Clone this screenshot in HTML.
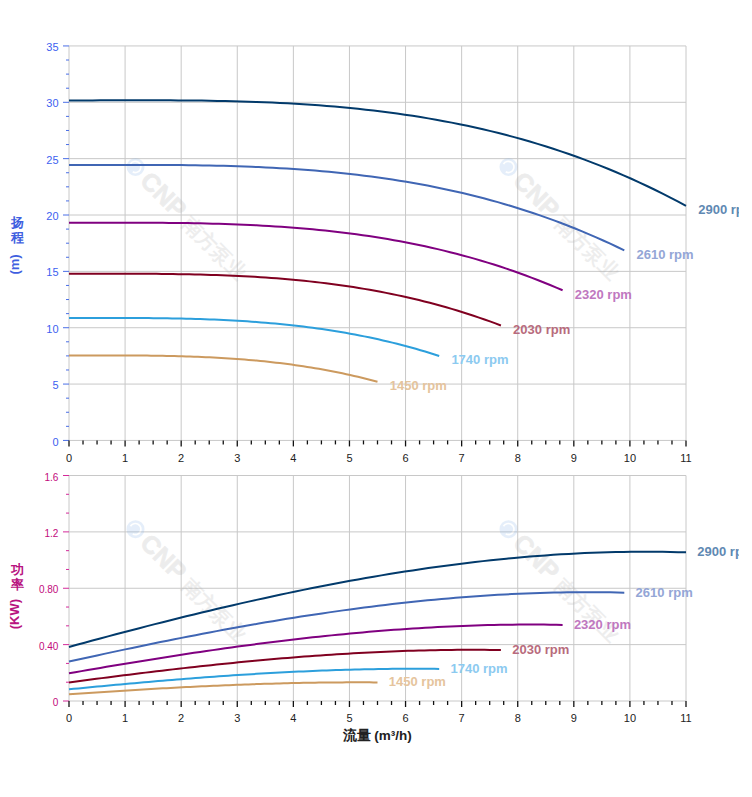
<!DOCTYPE html><html><head><meta charset="utf-8"><style>
html,body{margin:0;padding:0;background:#fff;width:752px;height:797px;overflow:hidden}
svg{position:absolute;left:0;top:0}
text{font-family:"Liberation Sans",sans-serif}
</style></head><body>
<svg width="752" height="797" viewBox="0 0 752 797">

<line x1="69.00" y1="45.94" x2="69.00" y2="440.43" stroke="#c8c8c8" stroke-width="1"/>
<line x1="125.09" y1="45.94" x2="125.09" y2="440.43" stroke="#c8c8c8" stroke-width="1"/>
<line x1="181.18" y1="45.94" x2="181.18" y2="440.43" stroke="#c8c8c8" stroke-width="1"/>
<line x1="237.27" y1="45.94" x2="237.27" y2="440.43" stroke="#c8c8c8" stroke-width="1"/>
<line x1="293.36" y1="45.94" x2="293.36" y2="440.43" stroke="#c8c8c8" stroke-width="1"/>
<line x1="349.45" y1="45.94" x2="349.45" y2="440.43" stroke="#c8c8c8" stroke-width="1"/>
<line x1="405.55" y1="45.94" x2="405.55" y2="440.43" stroke="#c8c8c8" stroke-width="1"/>
<line x1="461.64" y1="45.94" x2="461.64" y2="440.43" stroke="#c8c8c8" stroke-width="1"/>
<line x1="517.73" y1="45.94" x2="517.73" y2="440.43" stroke="#c8c8c8" stroke-width="1"/>
<line x1="573.82" y1="45.94" x2="573.82" y2="440.43" stroke="#c8c8c8" stroke-width="1"/>
<line x1="629.91" y1="45.94" x2="629.91" y2="440.43" stroke="#c8c8c8" stroke-width="1"/>
<line x1="686.00" y1="45.94" x2="686.00" y2="440.43" stroke="#c8c8c8" stroke-width="1"/>
<line x1="69.00" y1="440.43" x2="686.00" y2="440.43" stroke="#c8c8c8" stroke-width="1"/>
<line x1="69.00" y1="384.07" x2="686.00" y2="384.07" stroke="#c8c8c8" stroke-width="1"/>
<line x1="69.00" y1="327.72" x2="686.00" y2="327.72" stroke="#c8c8c8" stroke-width="1"/>
<line x1="69.00" y1="271.36" x2="686.00" y2="271.36" stroke="#c8c8c8" stroke-width="1"/>
<line x1="69.00" y1="215.01" x2="686.00" y2="215.01" stroke="#c8c8c8" stroke-width="1"/>
<line x1="69.00" y1="158.65" x2="686.00" y2="158.65" stroke="#c8c8c8" stroke-width="1"/>
<line x1="69.00" y1="102.30" x2="686.00" y2="102.30" stroke="#c8c8c8" stroke-width="1"/>
<line x1="69.00" y1="45.94" x2="686.00" y2="45.94" stroke="#c8c8c8" stroke-width="1"/>
<line x1="69.00" y1="475.50" x2="69.00" y2="701.00" stroke="#c8c8c8" stroke-width="1"/>
<line x1="125.09" y1="475.50" x2="125.09" y2="701.00" stroke="#c8c8c8" stroke-width="1"/>
<line x1="181.18" y1="475.50" x2="181.18" y2="701.00" stroke="#c8c8c8" stroke-width="1"/>
<line x1="237.27" y1="475.50" x2="237.27" y2="701.00" stroke="#c8c8c8" stroke-width="1"/>
<line x1="293.36" y1="475.50" x2="293.36" y2="701.00" stroke="#c8c8c8" stroke-width="1"/>
<line x1="349.45" y1="475.50" x2="349.45" y2="701.00" stroke="#c8c8c8" stroke-width="1"/>
<line x1="405.55" y1="475.50" x2="405.55" y2="701.00" stroke="#c8c8c8" stroke-width="1"/>
<line x1="461.64" y1="475.50" x2="461.64" y2="701.00" stroke="#c8c8c8" stroke-width="1"/>
<line x1="517.73" y1="475.50" x2="517.73" y2="701.00" stroke="#c8c8c8" stroke-width="1"/>
<line x1="573.82" y1="475.50" x2="573.82" y2="701.00" stroke="#c8c8c8" stroke-width="1"/>
<line x1="629.91" y1="475.50" x2="629.91" y2="701.00" stroke="#c8c8c8" stroke-width="1"/>
<line x1="686.00" y1="475.50" x2="686.00" y2="701.00" stroke="#c8c8c8" stroke-width="1"/>
<line x1="69.00" y1="701.00" x2="686.00" y2="701.00" stroke="#c8c8c8" stroke-width="1"/>
<line x1="69.00" y1="644.62" x2="686.00" y2="644.62" stroke="#c8c8c8" stroke-width="1"/>
<line x1="69.00" y1="588.25" x2="686.00" y2="588.25" stroke="#c8c8c8" stroke-width="1"/>
<line x1="69.00" y1="531.88" x2="686.00" y2="531.88" stroke="#c8c8c8" stroke-width="1"/>
<line x1="69.00" y1="475.50" x2="686.00" y2="475.50" stroke="#c8c8c8" stroke-width="1"/>
<line x1="63" y1="440.43" x2="69.00" y2="440.43" stroke="#4a6ee6" stroke-width="1"/>
<line x1="66" y1="426.34" x2="69.00" y2="426.34" stroke="#4a6ee6" stroke-width="1"/>
<line x1="66" y1="412.25" x2="69.00" y2="412.25" stroke="#4a6ee6" stroke-width="1"/>
<line x1="66" y1="398.16" x2="69.00" y2="398.16" stroke="#4a6ee6" stroke-width="1"/>
<line x1="63" y1="384.07" x2="69.00" y2="384.07" stroke="#4a6ee6" stroke-width="1"/>
<line x1="66" y1="369.99" x2="69.00" y2="369.99" stroke="#4a6ee6" stroke-width="1"/>
<line x1="66" y1="355.90" x2="69.00" y2="355.90" stroke="#4a6ee6" stroke-width="1"/>
<line x1="66" y1="341.81" x2="69.00" y2="341.81" stroke="#4a6ee6" stroke-width="1"/>
<line x1="63" y1="327.72" x2="69.00" y2="327.72" stroke="#4a6ee6" stroke-width="1"/>
<line x1="66" y1="313.63" x2="69.00" y2="313.63" stroke="#4a6ee6" stroke-width="1"/>
<line x1="66" y1="299.54" x2="69.00" y2="299.54" stroke="#4a6ee6" stroke-width="1"/>
<line x1="66" y1="285.45" x2="69.00" y2="285.45" stroke="#4a6ee6" stroke-width="1"/>
<line x1="63" y1="271.36" x2="69.00" y2="271.36" stroke="#4a6ee6" stroke-width="1"/>
<line x1="66" y1="257.27" x2="69.00" y2="257.27" stroke="#4a6ee6" stroke-width="1"/>
<line x1="66" y1="243.19" x2="69.00" y2="243.19" stroke="#4a6ee6" stroke-width="1"/>
<line x1="66" y1="229.10" x2="69.00" y2="229.10" stroke="#4a6ee6" stroke-width="1"/>
<line x1="63" y1="215.01" x2="69.00" y2="215.01" stroke="#4a6ee6" stroke-width="1"/>
<line x1="66" y1="200.92" x2="69.00" y2="200.92" stroke="#4a6ee6" stroke-width="1"/>
<line x1="66" y1="186.83" x2="69.00" y2="186.83" stroke="#4a6ee6" stroke-width="1"/>
<line x1="66" y1="172.74" x2="69.00" y2="172.74" stroke="#4a6ee6" stroke-width="1"/>
<line x1="63" y1="158.65" x2="69.00" y2="158.65" stroke="#4a6ee6" stroke-width="1"/>
<line x1="66" y1="144.56" x2="69.00" y2="144.56" stroke="#4a6ee6" stroke-width="1"/>
<line x1="66" y1="130.47" x2="69.00" y2="130.47" stroke="#4a6ee6" stroke-width="1"/>
<line x1="66" y1="116.38" x2="69.00" y2="116.38" stroke="#4a6ee6" stroke-width="1"/>
<line x1="63" y1="102.30" x2="69.00" y2="102.30" stroke="#4a6ee6" stroke-width="1"/>
<line x1="66" y1="88.21" x2="69.00" y2="88.21" stroke="#4a6ee6" stroke-width="1"/>
<line x1="66" y1="74.12" x2="69.00" y2="74.12" stroke="#4a6ee6" stroke-width="1"/>
<line x1="66" y1="60.03" x2="69.00" y2="60.03" stroke="#4a6ee6" stroke-width="1"/>
<line x1="63" y1="45.94" x2="69.00" y2="45.94" stroke="#4a6ee6" stroke-width="1"/>
<line x1="63" y1="701.00" x2="69.00" y2="701.00" stroke="#d42a9a" stroke-width="1"/>
<line x1="66" y1="682.21" x2="69.00" y2="682.21" stroke="#d42a9a" stroke-width="1"/>
<line x1="66" y1="663.42" x2="69.00" y2="663.42" stroke="#d42a9a" stroke-width="1"/>
<line x1="63" y1="644.62" x2="69.00" y2="644.62" stroke="#d42a9a" stroke-width="1"/>
<line x1="66" y1="625.83" x2="69.00" y2="625.83" stroke="#d42a9a" stroke-width="1"/>
<line x1="66" y1="607.04" x2="69.00" y2="607.04" stroke="#d42a9a" stroke-width="1"/>
<line x1="63" y1="588.25" x2="69.00" y2="588.25" stroke="#d42a9a" stroke-width="1"/>
<line x1="66" y1="569.46" x2="69.00" y2="569.46" stroke="#d42a9a" stroke-width="1"/>
<line x1="66" y1="550.67" x2="69.00" y2="550.67" stroke="#d42a9a" stroke-width="1"/>
<line x1="63" y1="531.88" x2="69.00" y2="531.88" stroke="#d42a9a" stroke-width="1"/>
<line x1="66" y1="513.08" x2="69.00" y2="513.08" stroke="#d42a9a" stroke-width="1"/>
<line x1="66" y1="494.29" x2="69.00" y2="494.29" stroke="#d42a9a" stroke-width="1"/>
<line x1="63" y1="475.50" x2="69.00" y2="475.50" stroke="#d42a9a" stroke-width="1"/>
<line x1="69.00" y1="440.43" x2="69.00" y2="446.43" stroke="#111" stroke-width="1.3"/>
<line x1="83.02" y1="440.43" x2="83.02" y2="444.43" stroke="#111" stroke-width="1.3"/>
<line x1="97.05" y1="440.43" x2="97.05" y2="444.43" stroke="#111" stroke-width="1.3"/>
<line x1="111.07" y1="440.43" x2="111.07" y2="444.43" stroke="#111" stroke-width="1.3"/>
<line x1="125.09" y1="440.43" x2="125.09" y2="446.43" stroke="#111" stroke-width="1.3"/>
<line x1="139.11" y1="440.43" x2="139.11" y2="444.43" stroke="#111" stroke-width="1.3"/>
<line x1="153.14" y1="440.43" x2="153.14" y2="444.43" stroke="#111" stroke-width="1.3"/>
<line x1="167.16" y1="440.43" x2="167.16" y2="444.43" stroke="#111" stroke-width="1.3"/>
<line x1="181.18" y1="440.43" x2="181.18" y2="446.43" stroke="#111" stroke-width="1.3"/>
<line x1="195.20" y1="440.43" x2="195.20" y2="444.43" stroke="#111" stroke-width="1.3"/>
<line x1="209.23" y1="440.43" x2="209.23" y2="444.43" stroke="#111" stroke-width="1.3"/>
<line x1="223.25" y1="440.43" x2="223.25" y2="444.43" stroke="#111" stroke-width="1.3"/>
<line x1="237.27" y1="440.43" x2="237.27" y2="446.43" stroke="#111" stroke-width="1.3"/>
<line x1="251.30" y1="440.43" x2="251.30" y2="444.43" stroke="#111" stroke-width="1.3"/>
<line x1="265.32" y1="440.43" x2="265.32" y2="444.43" stroke="#111" stroke-width="1.3"/>
<line x1="279.34" y1="440.43" x2="279.34" y2="444.43" stroke="#111" stroke-width="1.3"/>
<line x1="293.36" y1="440.43" x2="293.36" y2="446.43" stroke="#111" stroke-width="1.3"/>
<line x1="307.39" y1="440.43" x2="307.39" y2="444.43" stroke="#111" stroke-width="1.3"/>
<line x1="321.41" y1="440.43" x2="321.41" y2="444.43" stroke="#111" stroke-width="1.3"/>
<line x1="335.43" y1="440.43" x2="335.43" y2="444.43" stroke="#111" stroke-width="1.3"/>
<line x1="349.45" y1="440.43" x2="349.45" y2="446.43" stroke="#111" stroke-width="1.3"/>
<line x1="363.48" y1="440.43" x2="363.48" y2="444.43" stroke="#111" stroke-width="1.3"/>
<line x1="377.50" y1="440.43" x2="377.50" y2="444.43" stroke="#111" stroke-width="1.3"/>
<line x1="391.52" y1="440.43" x2="391.52" y2="444.43" stroke="#111" stroke-width="1.3"/>
<line x1="405.55" y1="440.43" x2="405.55" y2="446.43" stroke="#111" stroke-width="1.3"/>
<line x1="419.57" y1="440.43" x2="419.57" y2="444.43" stroke="#111" stroke-width="1.3"/>
<line x1="433.59" y1="440.43" x2="433.59" y2="444.43" stroke="#111" stroke-width="1.3"/>
<line x1="447.61" y1="440.43" x2="447.61" y2="444.43" stroke="#111" stroke-width="1.3"/>
<line x1="461.64" y1="440.43" x2="461.64" y2="446.43" stroke="#111" stroke-width="1.3"/>
<line x1="475.66" y1="440.43" x2="475.66" y2="444.43" stroke="#111" stroke-width="1.3"/>
<line x1="489.68" y1="440.43" x2="489.68" y2="444.43" stroke="#111" stroke-width="1.3"/>
<line x1="503.70" y1="440.43" x2="503.70" y2="444.43" stroke="#111" stroke-width="1.3"/>
<line x1="517.73" y1="440.43" x2="517.73" y2="446.43" stroke="#111" stroke-width="1.3"/>
<line x1="531.75" y1="440.43" x2="531.75" y2="444.43" stroke="#111" stroke-width="1.3"/>
<line x1="545.77" y1="440.43" x2="545.77" y2="444.43" stroke="#111" stroke-width="1.3"/>
<line x1="559.80" y1="440.43" x2="559.80" y2="444.43" stroke="#111" stroke-width="1.3"/>
<line x1="573.82" y1="440.43" x2="573.82" y2="446.43" stroke="#111" stroke-width="1.3"/>
<line x1="587.84" y1="440.43" x2="587.84" y2="444.43" stroke="#111" stroke-width="1.3"/>
<line x1="601.86" y1="440.43" x2="601.86" y2="444.43" stroke="#111" stroke-width="1.3"/>
<line x1="615.89" y1="440.43" x2="615.89" y2="444.43" stroke="#111" stroke-width="1.3"/>
<line x1="629.91" y1="440.43" x2="629.91" y2="446.43" stroke="#111" stroke-width="1.3"/>
<line x1="643.93" y1="440.43" x2="643.93" y2="444.43" stroke="#111" stroke-width="1.3"/>
<line x1="657.95" y1="440.43" x2="657.95" y2="444.43" stroke="#111" stroke-width="1.3"/>
<line x1="671.98" y1="440.43" x2="671.98" y2="444.43" stroke="#111" stroke-width="1.3"/>
<line x1="686.00" y1="440.43" x2="686.00" y2="446.43" stroke="#111" stroke-width="1.3"/>
<line x1="69.00" y1="701.00" x2="69.00" y2="707.00" stroke="#111" stroke-width="1.3"/>
<line x1="83.02" y1="701.00" x2="83.02" y2="705.00" stroke="#111" stroke-width="1.3"/>
<line x1="97.05" y1="701.00" x2="97.05" y2="705.00" stroke="#111" stroke-width="1.3"/>
<line x1="111.07" y1="701.00" x2="111.07" y2="705.00" stroke="#111" stroke-width="1.3"/>
<line x1="125.09" y1="701.00" x2="125.09" y2="707.00" stroke="#111" stroke-width="1.3"/>
<line x1="139.11" y1="701.00" x2="139.11" y2="705.00" stroke="#111" stroke-width="1.3"/>
<line x1="153.14" y1="701.00" x2="153.14" y2="705.00" stroke="#111" stroke-width="1.3"/>
<line x1="167.16" y1="701.00" x2="167.16" y2="705.00" stroke="#111" stroke-width="1.3"/>
<line x1="181.18" y1="701.00" x2="181.18" y2="707.00" stroke="#111" stroke-width="1.3"/>
<line x1="195.20" y1="701.00" x2="195.20" y2="705.00" stroke="#111" stroke-width="1.3"/>
<line x1="209.23" y1="701.00" x2="209.23" y2="705.00" stroke="#111" stroke-width="1.3"/>
<line x1="223.25" y1="701.00" x2="223.25" y2="705.00" stroke="#111" stroke-width="1.3"/>
<line x1="237.27" y1="701.00" x2="237.27" y2="707.00" stroke="#111" stroke-width="1.3"/>
<line x1="251.30" y1="701.00" x2="251.30" y2="705.00" stroke="#111" stroke-width="1.3"/>
<line x1="265.32" y1="701.00" x2="265.32" y2="705.00" stroke="#111" stroke-width="1.3"/>
<line x1="279.34" y1="701.00" x2="279.34" y2="705.00" stroke="#111" stroke-width="1.3"/>
<line x1="293.36" y1="701.00" x2="293.36" y2="707.00" stroke="#111" stroke-width="1.3"/>
<line x1="307.39" y1="701.00" x2="307.39" y2="705.00" stroke="#111" stroke-width="1.3"/>
<line x1="321.41" y1="701.00" x2="321.41" y2="705.00" stroke="#111" stroke-width="1.3"/>
<line x1="335.43" y1="701.00" x2="335.43" y2="705.00" stroke="#111" stroke-width="1.3"/>
<line x1="349.45" y1="701.00" x2="349.45" y2="707.00" stroke="#111" stroke-width="1.3"/>
<line x1="363.48" y1="701.00" x2="363.48" y2="705.00" stroke="#111" stroke-width="1.3"/>
<line x1="377.50" y1="701.00" x2="377.50" y2="705.00" stroke="#111" stroke-width="1.3"/>
<line x1="391.52" y1="701.00" x2="391.52" y2="705.00" stroke="#111" stroke-width="1.3"/>
<line x1="405.55" y1="701.00" x2="405.55" y2="707.00" stroke="#111" stroke-width="1.3"/>
<line x1="419.57" y1="701.00" x2="419.57" y2="705.00" stroke="#111" stroke-width="1.3"/>
<line x1="433.59" y1="701.00" x2="433.59" y2="705.00" stroke="#111" stroke-width="1.3"/>
<line x1="447.61" y1="701.00" x2="447.61" y2="705.00" stroke="#111" stroke-width="1.3"/>
<line x1="461.64" y1="701.00" x2="461.64" y2="707.00" stroke="#111" stroke-width="1.3"/>
<line x1="475.66" y1="701.00" x2="475.66" y2="705.00" stroke="#111" stroke-width="1.3"/>
<line x1="489.68" y1="701.00" x2="489.68" y2="705.00" stroke="#111" stroke-width="1.3"/>
<line x1="503.70" y1="701.00" x2="503.70" y2="705.00" stroke="#111" stroke-width="1.3"/>
<line x1="517.73" y1="701.00" x2="517.73" y2="707.00" stroke="#111" stroke-width="1.3"/>
<line x1="531.75" y1="701.00" x2="531.75" y2="705.00" stroke="#111" stroke-width="1.3"/>
<line x1="545.77" y1="701.00" x2="545.77" y2="705.00" stroke="#111" stroke-width="1.3"/>
<line x1="559.80" y1="701.00" x2="559.80" y2="705.00" stroke="#111" stroke-width="1.3"/>
<line x1="573.82" y1="701.00" x2="573.82" y2="707.00" stroke="#111" stroke-width="1.3"/>
<line x1="587.84" y1="701.00" x2="587.84" y2="705.00" stroke="#111" stroke-width="1.3"/>
<line x1="601.86" y1="701.00" x2="601.86" y2="705.00" stroke="#111" stroke-width="1.3"/>
<line x1="615.89" y1="701.00" x2="615.89" y2="705.00" stroke="#111" stroke-width="1.3"/>
<line x1="629.91" y1="701.00" x2="629.91" y2="707.00" stroke="#111" stroke-width="1.3"/>
<line x1="643.93" y1="701.00" x2="643.93" y2="705.00" stroke="#111" stroke-width="1.3"/>
<line x1="657.95" y1="701.00" x2="657.95" y2="705.00" stroke="#111" stroke-width="1.3"/>
<line x1="671.98" y1="701.00" x2="671.98" y2="705.00" stroke="#111" stroke-width="1.3"/>
<line x1="686.00" y1="701.00" x2="686.00" y2="707.00" stroke="#111" stroke-width="1.3"/>
<g transform="translate(135.5,167) rotate(45)" opacity="0.2">
<circle cx="0" cy="0" r="9" fill="#7fb0e8"/>
<path d="M-5.6,1.5 A5.6,5.6 0 1 1 1.5,5.4" fill="none" stroke="#fff" stroke-width="1.7"/>
<text x="13" y="8.5" font-size="25" font-weight="bold" fill="#a6a6a6" stroke="#a6a6a6" stroke-width="0.8">CNP</text>
<text x="73" y="8.5" font-size="20" font-weight="bold" fill="#ababab">南方泵业</text>
</g>
<g transform="translate(135.5,529.2) rotate(45)" opacity="0.2">
<circle cx="0" cy="0" r="9" fill="#7fb0e8"/>
<path d="M-5.6,1.5 A5.6,5.6 0 1 1 1.5,5.4" fill="none" stroke="#fff" stroke-width="1.7"/>
<text x="13" y="8.5" font-size="25" font-weight="bold" fill="#a6a6a6" stroke="#a6a6a6" stroke-width="0.8">CNP</text>
<text x="73" y="8.5" font-size="20" font-weight="bold" fill="#ababab">南方泵业</text>
</g>
<g transform="translate(508.5,167) rotate(45)" opacity="0.2">
<circle cx="0" cy="0" r="9" fill="#7fb0e8"/>
<path d="M-5.6,1.5 A5.6,5.6 0 1 1 1.5,5.4" fill="none" stroke="#fff" stroke-width="1.7"/>
<text x="13" y="8.5" font-size="25" font-weight="bold" fill="#a6a6a6" stroke="#a6a6a6" stroke-width="0.8">CNP</text>
<text x="73" y="8.5" font-size="20" font-weight="bold" fill="#ababab">南方泵业</text>
</g>
<g transform="translate(508.5,529.2) rotate(45)" opacity="0.2">
<circle cx="0" cy="0" r="9" fill="#7fb0e8"/>
<path d="M-5.6,1.5 A5.6,5.6 0 1 1 1.5,5.4" fill="none" stroke="#fff" stroke-width="1.7"/>
<text x="13" y="8.5" font-size="25" font-weight="bold" fill="#a6a6a6" stroke="#a6a6a6" stroke-width="0.8">CNP</text>
<text x="73" y="8.5" font-size="20" font-weight="bold" fill="#ababab">南方泵业</text>
</g>
<path d="M69.00,100.47 L76.81,100.45 L84.62,100.42 L92.43,100.39 L100.24,100.37 L108.05,100.34 L115.86,100.32 L123.67,100.30 L131.48,100.28 L139.29,100.27 L147.10,100.27 L154.91,100.28 L162.72,100.30 L170.53,100.33 L178.34,100.38 L186.15,100.44 L193.96,100.52 L201.77,100.62 L209.58,100.74 L217.39,100.88 L225.20,101.04 L233.01,101.23 L240.82,101.45 L248.63,101.69 L256.44,101.96 L264.25,102.26 L272.06,102.60 L279.87,102.97 L287.68,103.37 L295.49,103.81 L303.30,104.29 L311.11,104.81 L318.92,105.37 L326.73,105.97 L334.54,106.62 L342.35,107.31 L350.16,108.05 L357.97,108.84 L365.78,109.67 L373.59,110.56 L381.41,111.51 L389.22,112.51 L397.03,113.56 L404.84,114.67 L412.65,115.84 L420.46,117.08 L428.27,118.37 L436.08,119.73 L443.89,121.15 L451.70,122.64 L459.51,124.20 L467.32,125.83 L475.13,127.53 L482.94,129.30 L490.75,131.15 L498.56,133.07 L506.37,135.07 L514.18,137.14 L521.99,139.30 L529.80,141.54 L537.61,143.87 L545.42,146.27 L553.23,148.77 L561.04,151.35 L568.85,154.02 L576.66,156.78 L584.47,159.64 L592.28,162.59 L600.09,165.63 L607.90,168.77 L615.71,172.01 L623.52,175.35 L631.33,178.79 L639.14,182.33 L646.95,185.97 L654.76,189.73 L662.57,193.59 L670.38,197.55 L678.19,201.63 L686.00,205.82" fill="none" stroke="#023a6b" stroke-width="2" stroke-linejoin="round"/>
<path d="M69.00,165.06 L76.03,165.04 L83.06,165.02 L90.09,165.00 L97.12,164.98 L104.15,164.96 L111.17,164.94 L118.20,164.92 L125.23,164.91 L132.26,164.90 L139.29,164.90 L146.32,164.91 L153.35,164.92 L160.38,164.95 L167.41,164.99 L174.44,165.04 L181.47,165.10 L188.49,165.18 L195.52,165.28 L202.55,165.39 L209.58,165.53 L216.61,165.68 L223.64,165.85 L230.67,166.05 L237.70,166.27 L244.73,166.52 L251.76,166.79 L258.79,167.08 L265.82,167.41 L272.84,167.77 L279.87,168.16 L286.90,168.58 L293.93,169.03 L300.96,169.52 L307.99,170.04 L315.02,170.60 L322.05,171.20 L329.08,171.84 L336.11,172.52 L343.14,173.24 L350.16,174.00 L357.19,174.81 L364.22,175.67 L371.25,176.57 L378.28,177.52 L385.31,178.51 L392.34,179.56 L399.37,180.66 L406.40,181.81 L413.43,183.02 L420.46,184.28 L427.48,185.60 L434.51,186.98 L441.54,188.41 L448.57,189.91 L455.60,191.47 L462.63,193.09 L469.66,194.77 L476.69,196.52 L483.72,198.33 L490.75,200.21 L497.78,202.16 L504.81,204.18 L511.83,206.28 L518.86,208.44 L525.89,210.68 L532.92,212.99 L539.95,215.38 L546.98,217.84 L554.01,220.39 L561.04,223.01 L568.07,225.71 L575.10,228.50 L582.13,231.37 L589.15,234.32 L596.18,237.36 L603.21,240.49 L610.24,243.70 L617.27,247.00 L624.30,250.40" fill="none" stroke="#4066b4" stroke-width="2" stroke-linejoin="round"/>
<path d="M69.00,222.85 L75.25,222.84 L81.50,222.82 L87.74,222.81 L93.99,222.79 L100.24,222.77 L106.49,222.76 L112.74,222.74 L118.98,222.73 L125.23,222.73 L131.48,222.73 L137.73,222.73 L143.98,222.75 L150.23,222.77 L156.47,222.80 L162.72,222.84 L168.97,222.89 L175.22,222.95 L181.47,223.03 L187.71,223.12 L193.96,223.22 L200.21,223.34 L206.46,223.48 L212.71,223.64 L218.95,223.81 L225.20,224.00 L231.45,224.22 L237.70,224.45 L243.95,224.71 L250.19,224.99 L256.44,225.30 L262.69,225.63 L268.94,225.99 L275.19,226.38 L281.44,226.79 L287.68,227.23 L293.93,227.71 L300.18,228.21 L306.43,228.75 L312.68,229.32 L318.92,229.92 L325.17,230.56 L331.42,231.23 L337.67,231.95 L343.92,232.69 L350.16,233.48 L356.41,234.31 L362.66,235.18 L368.91,236.09 L375.16,237.05 L381.41,238.04 L387.65,239.08 L393.90,240.17 L400.15,241.31 L406.40,242.49 L412.65,243.72 L418.89,245.00 L425.14,246.33 L431.39,247.71 L437.64,249.14 L443.89,250.63 L450.13,252.17 L456.38,253.77 L462.63,255.42 L468.88,257.13 L475.13,258.90 L481.37,260.72 L487.62,262.61 L493.87,264.56 L500.12,266.57 L506.37,268.64 L512.62,270.78 L518.86,272.98 L525.11,275.24 L531.36,277.58 L537.61,279.98 L543.86,282.45 L550.10,284.99 L556.35,287.60 L562.60,290.28" fill="none" stroke="#800080" stroke-width="2" stroke-linejoin="round"/>
<path d="M69.00,273.85 L74.47,273.84 L79.93,273.83 L85.40,273.81 L90.87,273.80 L96.34,273.79 L101.80,273.77 L107.27,273.76 L112.74,273.76 L118.20,273.75 L123.67,273.75 L129.14,273.76 L134.61,273.77 L140.07,273.78 L145.54,273.80 L151.01,273.84 L156.47,273.87 L161.94,273.92 L167.41,273.98 L172.87,274.05 L178.34,274.13 L183.81,274.22 L189.28,274.33 L194.74,274.45 L200.21,274.58 L205.68,274.73 L211.14,274.89 L216.61,275.07 L222.08,275.27 L227.55,275.49 L233.01,275.72 L238.48,275.98 L243.95,276.25 L249.41,276.54 L254.88,276.86 L260.35,277.20 L265.82,277.56 L271.28,277.95 L276.75,278.36 L282.22,278.80 L287.68,279.26 L293.15,279.75 L298.62,280.26 L304.08,280.81 L309.55,281.38 L315.02,281.99 L320.49,282.62 L325.95,283.29 L331.42,283.98 L336.89,284.71 L342.35,285.48 L347.82,286.27 L353.29,287.11 L358.76,287.98 L364.22,288.88 L369.69,289.82 L375.16,290.80 L380.62,291.82 L386.09,292.88 L391.56,293.98 L397.03,295.11 L402.49,296.29 L407.96,297.52 L413.43,298.78 L418.89,300.09 L424.36,301.44 L429.83,302.84 L435.29,304.29 L440.76,305.78 L446.23,307.32 L451.70,308.90 L457.16,310.54 L462.63,312.22 L468.10,313.96 L473.56,315.75 L479.03,317.59 L484.50,319.48 L489.97,321.42 L495.43,323.42 L500.90,325.47" fill="none" stroke="#800020" stroke-width="2" stroke-linejoin="round"/>
<path d="M69.00,318.04 L73.69,318.04 L78.37,318.03 L83.06,318.02 L87.74,318.01 L92.43,318.00 L97.12,317.99 L101.80,317.98 L106.49,317.98 L111.17,317.97 L115.86,317.97 L120.55,317.98 L125.23,317.98 L129.92,317.99 L134.61,318.01 L139.29,318.03 L143.98,318.06 L148.66,318.10 L153.35,318.14 L158.04,318.19 L162.72,318.25 L167.41,318.32 L172.09,318.40 L176.78,318.48 L181.47,318.58 L186.15,318.69 L190.84,318.81 L195.52,318.94 L200.21,319.09 L204.90,319.25 L209.58,319.42 L214.27,319.61 L218.95,319.81 L223.64,320.02 L228.33,320.26 L233.01,320.51 L237.70,320.77 L242.38,321.06 L247.07,321.36 L251.76,321.68 L256.44,322.02 L261.13,322.38 L265.82,322.76 L270.50,323.16 L275.19,323.58 L279.87,324.02 L284.56,324.49 L289.25,324.98 L293.93,325.49 L298.62,326.03 L303.30,326.59 L307.99,327.17 L312.68,327.78 L317.36,328.42 L322.05,329.09 L326.73,329.78 L331.42,330.50 L336.11,331.25 L340.79,332.02 L345.48,332.83 L350.16,333.67 L354.85,334.53 L359.54,335.43 L364.22,336.36 L368.91,337.32 L373.59,338.32 L378.28,339.34 L382.97,340.41 L387.65,341.50 L392.34,342.63 L397.03,343.80 L401.71,345.00 L406.40,346.24 L411.08,347.51 L415.77,348.83 L420.46,350.18 L425.14,351.57 L429.83,352.99 L434.51,354.46 L439.20,355.97" fill="none" stroke="#2c9fdc" stroke-width="2" stroke-linejoin="round"/>
<path d="M69.00,355.44 L72.91,355.43 L76.81,355.43 L80.72,355.42 L84.62,355.41 L88.53,355.41 L92.43,355.40 L96.34,355.40 L100.24,355.39 L104.15,355.39 L108.05,355.39 L111.96,355.39 L115.86,355.40 L119.77,355.41 L123.67,355.42 L127.58,355.43 L131.48,355.45 L135.39,355.48 L139.29,355.51 L143.20,355.54 L147.10,355.58 L151.01,355.63 L154.91,355.68 L158.82,355.74 L162.72,355.81 L166.63,355.89 L170.53,355.97 L174.44,356.06 L178.34,356.17 L182.25,356.28 L186.15,356.39 L190.06,356.52 L193.96,356.66 L197.87,356.81 L201.77,356.98 L205.68,357.15 L209.58,357.33 L213.49,357.53 L217.39,357.74 L221.30,357.96 L225.20,358.20 L229.11,358.45 L233.01,358.71 L236.92,358.99 L240.82,359.28 L244.73,359.59 L248.63,359.92 L252.54,360.25 L256.44,360.61 L260.35,360.98 L264.25,361.37 L268.16,361.78 L272.06,362.20 L275.97,362.65 L279.87,363.11 L283.78,363.59 L287.68,364.09 L291.59,364.61 L295.49,365.15 L299.40,365.71 L303.30,366.29 L307.21,366.89 L311.11,367.51 L315.02,368.16 L318.92,368.83 L322.83,369.52 L326.73,370.23 L330.64,370.97 L334.54,371.73 L338.45,372.51 L342.35,373.32 L346.26,374.16 L350.16,375.02 L354.07,375.90 L357.97,376.82 L361.88,377.75 L365.78,378.72 L369.69,379.71 L373.59,380.73 L377.50,381.78" fill="none" stroke="#cc9a5f" stroke-width="2" stroke-linejoin="round"/>
<path d="M69.00,646.92 L76.81,644.78 L84.62,642.66 L92.43,640.55 L100.24,638.45 L108.05,636.36 L115.86,634.29 L123.67,632.23 L131.48,630.19 L139.29,628.16 L147.10,626.15 L154.91,624.15 L162.72,622.17 L170.53,620.21 L178.34,618.27 L186.15,616.34 L193.96,614.43 L201.77,612.54 L209.58,610.67 L217.39,608.81 L225.20,606.98 L233.01,605.17 L240.82,603.38 L248.63,601.62 L256.44,599.87 L264.25,598.15 L272.06,596.45 L279.87,594.77 L287.68,593.12 L295.49,591.50 L303.30,589.89 L311.11,588.32 L318.92,586.77 L326.73,585.25 L334.54,583.75 L342.35,582.28 L350.16,580.84 L357.97,579.43 L365.78,578.05 L373.59,576.69 L381.41,575.37 L389.22,574.08 L397.03,572.82 L404.84,571.59 L412.65,570.39 L420.46,569.22 L428.27,568.09 L436.08,566.99 L443.89,565.92 L451.70,564.89 L459.51,563.90 L467.32,562.94 L475.13,562.01 L482.94,561.12 L490.75,560.27 L498.56,559.46 L506.37,558.68 L514.18,557.94 L521.99,557.24 L529.80,556.58 L537.61,555.96 L545.42,555.38 L553.23,554.84 L561.04,554.34 L568.85,553.88 L576.66,553.47 L584.47,553.10 L592.28,552.77 L600.09,552.48 L607.90,552.24 L615.71,552.04 L623.52,551.89 L631.33,551.78 L639.14,551.72 L646.95,551.71 L654.76,551.74 L662.57,551.82 L670.38,551.95 L678.19,552.13 L686.00,552.36" fill="none" stroke="#023a6b" stroke-width="2" stroke-linejoin="round"/>
<path d="M69.00,661.57 L76.03,660.02 L83.06,658.47 L90.09,656.93 L97.12,655.40 L104.15,653.88 L111.17,652.37 L118.20,650.87 L125.23,649.38 L132.26,647.90 L139.29,646.44 L146.32,644.98 L153.35,643.54 L160.38,642.10 L167.41,640.69 L174.44,639.28 L181.47,637.89 L188.49,636.51 L195.52,635.15 L202.55,633.80 L209.58,632.46 L216.61,631.14 L223.64,629.84 L230.67,628.55 L237.70,627.28 L244.73,626.02 L251.76,624.78 L258.79,623.56 L265.82,622.36 L272.84,621.17 L279.87,620.00 L286.90,618.85 L293.93,617.73 L300.96,616.61 L307.99,615.52 L315.02,614.45 L322.05,613.40 L329.08,612.37 L336.11,611.37 L343.14,610.38 L350.16,609.42 L357.19,608.47 L364.22,607.55 L371.25,606.66 L378.28,605.78 L385.31,604.93 L392.34,604.11 L399.37,603.31 L406.40,602.53 L413.43,601.78 L420.46,601.05 L427.48,600.35 L434.51,599.68 L441.54,599.03 L448.57,598.41 L455.60,597.81 L462.63,597.25 L469.66,596.71 L476.69,596.20 L483.72,595.72 L490.75,595.27 L497.78,594.84 L504.81,594.45 L511.83,594.09 L518.86,593.75 L525.89,593.45 L532.92,593.18 L539.95,592.94 L546.98,592.73 L554.01,592.55 L561.04,592.41 L568.07,592.30 L575.10,592.22 L582.13,592.18 L589.15,592.17 L596.18,592.19 L603.21,592.25 L610.24,592.35 L617.27,592.47 L624.30,592.64" fill="none" stroke="#4066b4" stroke-width="2" stroke-linejoin="round"/>
<path d="M69.00,673.31 L75.25,672.22 L81.50,671.13 L87.74,670.05 L93.99,668.97 L100.24,667.91 L106.49,666.85 L112.74,665.79 L118.98,664.75 L125.23,663.71 L131.48,662.68 L137.73,661.66 L143.98,660.64 L150.23,659.64 L156.47,658.64 L162.72,657.65 L168.97,656.67 L175.22,655.71 L181.47,654.75 L187.71,653.80 L193.96,652.86 L200.21,651.94 L206.46,651.02 L212.71,650.12 L218.95,649.22 L225.20,648.34 L231.45,647.47 L237.70,646.61 L243.95,645.77 L250.19,644.93 L256.44,644.11 L262.69,643.31 L268.94,642.51 L275.19,641.73 L281.44,640.97 L287.68,640.22 L293.93,639.48 L300.18,638.76 L306.43,638.05 L312.68,637.35 L318.92,636.68 L325.17,636.02 L331.42,635.37 L337.67,634.74 L343.92,634.13 L350.16,633.53 L356.41,632.95 L362.66,632.39 L368.91,631.84 L375.16,631.31 L381.41,630.80 L387.65,630.31 L393.90,629.84 L400.15,629.38 L406.40,628.95 L412.65,628.53 L418.89,628.13 L425.14,627.75 L431.39,627.40 L437.64,627.06 L443.89,626.74 L450.13,626.44 L456.38,626.17 L462.63,625.91 L468.88,625.68 L475.13,625.46 L481.37,625.27 L487.62,625.10 L493.87,624.96 L500.12,624.83 L506.37,624.73 L512.62,624.66 L518.86,624.60 L525.11,624.57 L531.36,624.56 L537.61,624.58 L543.86,624.62 L550.10,624.69 L556.35,624.78 L562.60,624.89" fill="none" stroke="#800080" stroke-width="2" stroke-linejoin="round"/>
<path d="M69.00,682.45 L74.47,681.72 L79.93,680.99 L85.40,680.26 L90.87,679.55 L96.34,678.83 L101.80,678.12 L107.27,677.41 L112.74,676.71 L118.20,676.02 L123.67,675.33 L129.14,674.64 L134.61,673.96 L140.07,673.29 L145.54,672.62 L151.01,671.96 L156.47,671.31 L161.94,670.66 L167.41,670.02 L172.87,669.38 L178.34,668.75 L183.81,668.13 L189.28,667.52 L194.74,666.91 L200.21,666.31 L205.68,665.72 L211.14,665.14 L216.61,664.56 L222.08,664.00 L227.55,663.44 L233.01,662.89 L238.48,662.35 L243.95,661.82 L249.41,661.30 L254.88,660.78 L260.35,660.28 L265.82,659.79 L271.28,659.30 L276.75,658.83 L282.22,658.36 L287.68,657.91 L293.15,657.47 L298.62,657.03 L304.08,656.61 L309.55,656.20 L315.02,655.80 L320.49,655.41 L325.95,655.03 L331.42,654.67 L336.89,654.32 L342.35,653.97 L347.82,653.64 L353.29,653.33 L358.76,653.02 L364.22,652.73 L369.69,652.45 L375.16,652.18 L380.62,651.93 L386.09,651.69 L391.56,651.46 L397.03,651.25 L402.49,651.05 L407.96,650.87 L413.43,650.70 L418.89,650.54 L424.36,650.40 L429.83,650.27 L435.29,650.16 L440.76,650.06 L446.23,649.98 L451.70,649.91 L457.16,649.86 L462.63,649.82 L468.10,649.80 L473.56,649.79 L479.03,649.81 L484.50,649.83 L489.97,649.88 L495.43,649.94 L500.90,650.02" fill="none" stroke="#800020" stroke-width="2" stroke-linejoin="round"/>
<path d="M69.00,689.32 L73.69,688.86 L78.37,688.40 L83.06,687.94 L87.74,687.49 L92.43,687.04 L97.12,686.59 L101.80,686.15 L106.49,685.71 L111.17,685.27 L115.86,684.83 L120.55,684.40 L125.23,683.97 L129.92,683.55 L134.61,683.13 L139.29,682.71 L143.98,682.30 L148.66,681.89 L153.35,681.49 L158.04,681.09 L162.72,680.69 L167.41,680.30 L172.09,679.91 L176.78,679.53 L181.47,679.16 L186.15,678.78 L190.84,678.42 L195.52,678.05 L200.21,677.70 L204.90,677.35 L209.58,677.00 L214.27,676.66 L218.95,676.33 L223.64,676.00 L228.33,675.67 L233.01,675.36 L237.70,675.05 L242.38,674.74 L247.07,674.44 L251.76,674.15 L256.44,673.86 L261.13,673.58 L265.82,673.31 L270.50,673.05 L275.19,672.79 L279.87,672.54 L284.56,672.29 L289.25,672.05 L293.93,671.82 L298.62,671.60 L303.30,671.39 L307.99,671.18 L312.68,670.98 L317.36,670.79 L322.05,670.60 L326.73,670.43 L331.42,670.26 L336.11,670.10 L340.79,669.95 L345.48,669.81 L350.16,669.67 L354.85,669.55 L359.54,669.43 L364.22,669.32 L368.91,669.22 L373.59,669.13 L378.28,669.05 L382.97,668.98 L387.65,668.92 L392.34,668.87 L397.03,668.83 L401.71,668.79 L406.40,668.77 L411.08,668.76 L415.77,668.75 L420.46,668.76 L425.14,668.78 L429.83,668.81 L434.51,668.84 L439.20,668.89" fill="none" stroke="#2c9fdc" stroke-width="2" stroke-linejoin="round"/>
<path d="M69.00,694.24 L72.91,693.97 L76.81,693.71 L80.72,693.44 L84.62,693.18 L88.53,692.92 L92.43,692.66 L96.34,692.40 L100.24,692.15 L104.15,691.90 L108.05,691.64 L111.96,691.39 L115.86,691.15 L119.77,690.90 L123.67,690.66 L127.58,690.42 L131.48,690.18 L135.39,689.94 L139.29,689.71 L143.20,689.48 L147.10,689.25 L151.01,689.02 L154.91,688.80 L158.82,688.58 L162.72,688.36 L166.63,688.14 L170.53,687.93 L174.44,687.72 L178.34,687.52 L182.25,687.31 L186.15,687.11 L190.06,686.91 L193.96,686.72 L197.87,686.53 L201.77,686.34 L205.68,686.16 L209.58,685.98 L213.49,685.80 L217.39,685.63 L221.30,685.46 L225.20,685.30 L229.11,685.13 L233.01,684.98 L236.92,684.82 L240.82,684.67 L244.73,684.53 L248.63,684.39 L252.54,684.25 L256.44,684.12 L260.35,683.99 L264.25,683.86 L268.16,683.74 L272.06,683.63 L275.97,683.52 L279.87,683.41 L283.78,683.31 L287.68,683.21 L291.59,683.12 L295.49,683.03 L299.40,682.95 L303.30,682.87 L307.21,682.80 L311.11,682.73 L315.02,682.67 L318.92,682.61 L322.83,682.56 L326.73,682.51 L330.64,682.47 L334.54,682.44 L338.45,682.41 L342.35,682.38 L346.26,682.36 L350.16,682.35 L354.07,682.34 L357.97,682.34 L361.88,682.34 L365.78,682.35 L369.69,682.37 L373.59,682.39 L377.50,682.42" fill="none" stroke="#cc9a5f" stroke-width="2" stroke-linejoin="round"/>
<g font-size="13" font-weight="bold">
<text x="698.20" y="214.12" fill="#5f89b3">2900 rpm</text>
<text x="697.30" y="556.26" fill="#5f89b3">2900 rpm</text>
<text x="636.50" y="258.70" fill="#94a6d6">2610 rpm</text>
<text x="635.60" y="596.54" fill="#94a6d6">2610 rpm</text>
<text x="574.80" y="298.58" fill="#c078c0">2320 rpm</text>
<text x="573.90" y="628.79" fill="#c078c0">2320 rpm</text>
<text x="513.10" y="333.77" fill="#b86b7d">2030 rpm</text>
<text x="512.20" y="653.92" fill="#b86b7d">2030 rpm</text>
<text x="451.40" y="364.27" fill="#8ccaf0">1740 rpm</text>
<text x="450.50" y="672.79" fill="#8ccaf0">1740 rpm</text>
<text x="389.70" y="390.08" fill="#e5c49d">1450 rpm</text>
<text x="388.80" y="686.32" fill="#e5c49d">1450 rpm</text>
</g>
<g font-size="11" fill="#3d5ff0" text-anchor="end">
<text x="58.6" y="446">0</text>
<text x="58.6" y="389">5</text>
<text x="58.6" y="333">10</text>
<text x="58.6" y="276">15</text>
<text x="58.6" y="220">20</text>
<text x="58.6" y="164">25</text>
<text x="58.6" y="107">30</text>
<text x="58.6" y="51">35</text>
</g>
<g font-size="10" fill="#c20a7c" text-anchor="end">
<text x="58.4" y="706">0</text>
<text x="58.4" y="650">0.40</text>
<text x="58.4" y="593">0.80</text>
<text x="58.4" y="537">1.2</text>
<text x="58.4" y="481">1.6</text>
</g>
<g font-size="11" fill="#222" text-anchor="middle">
<text x="69.00" y="462">0</text>
<text x="69.00" y="722">0</text>
<text x="125.09" y="462">1</text>
<text x="125.09" y="722">1</text>
<text x="181.18" y="462">2</text>
<text x="181.18" y="722">2</text>
<text x="237.27" y="462">3</text>
<text x="237.27" y="722">3</text>
<text x="293.36" y="462">4</text>
<text x="293.36" y="722">4</text>
<text x="349.45" y="462">5</text>
<text x="349.45" y="722">5</text>
<text x="405.55" y="462">6</text>
<text x="405.55" y="722">6</text>
<text x="461.64" y="462">7</text>
<text x="461.64" y="722">7</text>
<text x="517.73" y="462">8</text>
<text x="517.73" y="722">8</text>
<text x="573.82" y="462">9</text>
<text x="573.82" y="722">9</text>
<text x="629.91" y="462">10</text>
<text x="629.91" y="722">10</text>
<text x="686.00" y="462">11</text>
<text x="686.00" y="722">11</text>
</g>
<text x="377.2" y="740.4" font-weight="bold" fill="#222" text-anchor="middle"><tspan font-size="14">流量</tspan><tspan font-size="13.5"> (m³/h)</tspan></text>
<g font-size="13" font-weight="bold" fill="#3f5fe0">
<text x="11" y="227" >扬</text>
<text x="11" y="241.5" >程</text>
<text font-size="13" transform="translate(19.4,274.6) rotate(-90)">(m)</text>
</g>
<g font-size="13" font-weight="bold" fill="#b8137f">
<text x="11" y="574" >功</text>
<text x="11" y="588.5" >率</text>
<text font-size="13" transform="translate(19.4,629.3) rotate(-90)">(KW)</text>
</g>
<rect x="739" y="0" width="13" height="797" fill="#fff"/>
</svg>
</body></html>
